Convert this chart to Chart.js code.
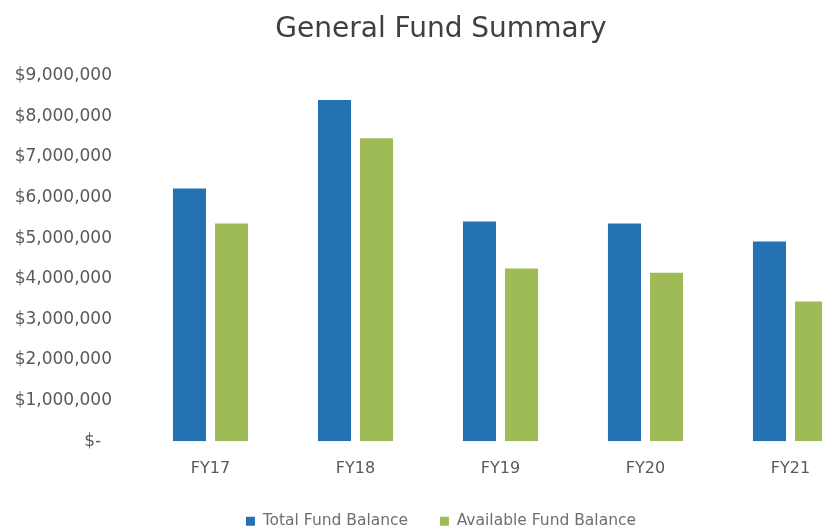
<!DOCTYPE html>
<html>
<head>
<meta charset="utf-8">
<script src="https://cdn.jsdelivr.net/npm/chart.js@4/dist/chart.umd.min.js"></script>
<style>
  html, body { margin: 0; padding: 0; background: #fff; overflow: hidden; }
  #wrap { position: relative; width: 822px; height: 531px; overflow: hidden; }
  canvas { position: absolute; left: 0; top: 0; }
</style>
</head>
<body>
<div id="wrap"><canvas id="chart" width="882" height="539"></canvas></div>
<script>
// data
const categories = ['FY17', 'FY18', 'FY19', 'FY20', 'FY21'];
const totalFund = [6220000, 8400000, 5410000, 5360000, 4920000];
const availableFund = [5360000, 7460000, 4250000, 4150000, 3440000];
const yTicks = [0, 1000000, 2000000, 3000000, 4000000, 5000000, 6000000, 7000000, 8000000, 9000000];

const textColor = '#595959';
const fontFamily = "'DejaVu Sans', sans-serif";

function money(v) {
  if (v === 0) return '$-  ';
  return '$' + v.toLocaleString('en-US');
}

const ctx = document.getElementById('chart').getContext('2d');
new Chart(ctx, {
  type: 'bar',
  data: {
    labels: categories,
    datasets: [{
      label: 'Total Fund Balance',
      data: totalFund,
      backgroundColor: '#2472b3'
    }, {
      label: 'Available Fund Balance',
      data: availableFund,
      backgroundColor: '#9fbb58'
    }]
  },
  options: {
    responsive: false,
    animation: false,
    datasets: { bar: { categoryPercentage: 0.58, barPercentage: 0.786 } },
    plugins: {
      title: {
        display: true,
        text: 'General Fund Summary',
        color: '#404040',
        font: { family: fontFamily, size: 28, weight: 'normal' },
        padding: { top: 13, bottom: 29 }
      },
      legend: {
        position: 'bottom',
        labels: {
          color: '#6f6f6f',
          boxWidth: 9,
          boxHeight: 9,
          padding: 17,
          font: { family: fontFamily, size: 15.5 },
          // extra room between the two legend entries
          generateLabels: chart => {
            const items = Chart.defaults.plugins.legend.labels.generateLabels(chart);
            items[0].text += '   ';
            return items;
          }
        }
      },
      tooltip: { enabled: false }
    },
    scales: {
      x: {
        grid: { display: false, drawTicks: false },
        border: { display: false },
        ticks: { color: textColor, padding: 18, font: { family: fontFamily, size: 16 } }
      },
      y: {
        min: 0,
        max: 9000000,
        afterBuildTicks: axis => { axis.ticks = yTicks.map(v => ({ value: v })); },
        afterFit: axis => { axis.width = 138; },
        grid: { display: false, drawTicks: false },
        border: { display: false },
        ticks: {
          color: textColor,
          padding: 26,
          font: { family: fontFamily, size: 17 },
          callback: v => money(v)
        }
      },
      // empty right-hand axis, only reserves space (chart is cut off on the right)
      yRight: {
        position: 'right',
        grid: { display: false, drawTicks: false },
        border: { display: false },
        ticks: { display: false },
        afterFit: axis => { axis.width = 19; }
      }
    }
  }
});
</script>
</body>
</html>
